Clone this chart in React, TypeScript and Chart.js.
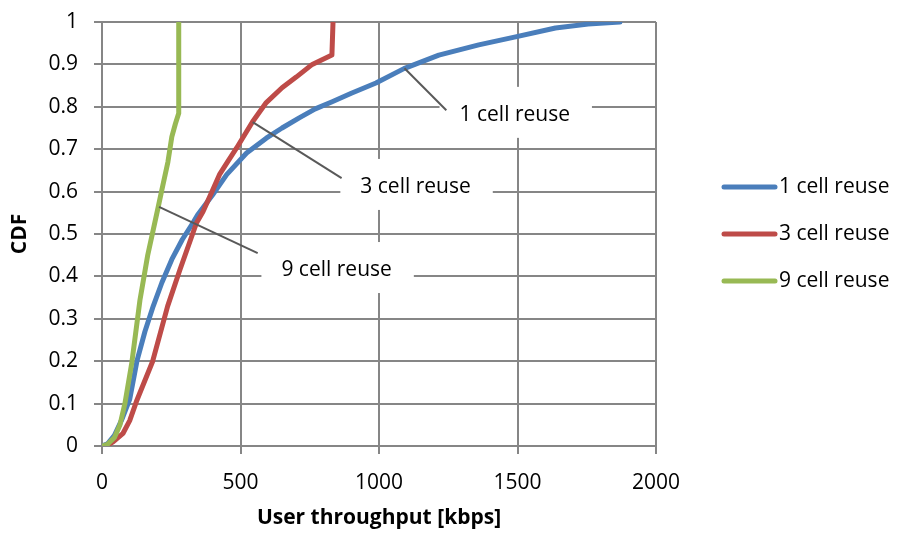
import React, { useEffect, useRef } from "react";
import { Chart, registerables } from "chart.js";

Chart.register(...registerables);

const FONT = "'Open Sans', 'Noto Sans', sans-serif";

const seriesNames = ["1 cell reuse", "3 cell reuse", "9 cell reuse"];
const seriesColors = ["#4A7EBB", "#BE4B48", "#98B954"];

// User throughput [kbps] and matching CDF values, per reuse scheme
const reuse1Kbps = [0, 20, 45, 70, 100, 126, 155, 185, 216, 252, 290, 328, 345, 399, 450, 522, 593, 650, 712, 770, 831, 900, 989, 1090, 1216, 1360, 1493, 1637, 1755, 1870];
const reuse1Cdf = [0, 0.005, 0.025, 0.06, 0.11, 0.2, 0.27, 0.33, 0.385, 0.44, 0.487, 0.526, 0.545, 0.592, 0.64, 0.691, 0.726, 0.75, 0.774, 0.795, 0.812, 0.832, 0.856, 0.89, 0.922, 0.946, 0.965, 0.986, 0.995, 1.0];

const reuse3Kbps = [15, 40, 76, 100, 126, 183, 237, 281, 341, 364, 400, 424, 455, 486, 543, 593, 650, 701, 759, 830, 834];
const reuse3Cdf = [0, 0.01, 0.03, 0.06, 0.108, 0.2, 0.33, 0.415, 0.526, 0.552, 0.604, 0.64, 0.672, 0.703, 0.764, 0.81, 0.845, 0.87, 0.9, 0.922, 1.0];

const reuse9Kbps = [0, 20, 45, 65, 83, 108, 137, 165, 203, 216, 238, 252, 265, 277, 277];
const reuse9Cdf = [0, 0.004, 0.02, 0.05, 0.101, 0.198, 0.344, 0.45, 0.564, 0.604, 0.67, 0.729, 0.76, 0.785, 1.0];

const xTickValues = [0, 500, 1000, 1500, 2000];
const yTickValues = [0, 0.1, 0.2, 0.3, 0.4, 0.5, 0.6, 0.7, 0.8, 0.9, 1];

const xTitle = "User throughput [kbps]";
const yTitle = "CDF";

// Callout labels: curve anchor, leader-line end and text centre, in axis units
const callouts = [
  { text: "1 cell reuse", ax: 1092, ay: 0.891, ex: 1243, ey: 0.792, lx: 1490, ly: 0.781 },
  { text: "3 cell reuse", ax: 544, ay: 0.764, ex: 865, ey: 0.632, lx: 1132, ly: 0.611 },
  { text: "9 cell reuse", ax: 206, ay: 0.564, ex: 562, ey: 0.455, lx: 847, ly: 0.415 },
];

const toPoints = (xs: number[], ys: number[]) => xs.map((x, i) => ({ x, y: ys[i] }));

const calloutPlugin = {
  id: "callouts",
  afterDatasetsDraw(chart: any) {
    const { ctx, scales } = chart;
    const xs = scales.x;
    const ys = scales.y;
    ctx.save();
    ctx.font = `21px ${FONT}`;
    for (const c of callouts) {
      const tx = xs.getPixelForValue(c.lx);
      const ty = ys.getPixelForValue(c.ly);
      const w = ctx.measureText(c.text).width;
      ctx.fillStyle = "#ffffff";
      ctx.fillRect(tx - w / 2 - 20, ty - 28, w + 42, 51);
      ctx.strokeStyle = "#595959";
      ctx.lineWidth = 2;
      ctx.beginPath();
      ctx.moveTo(xs.getPixelForValue(c.ax), ys.getPixelForValue(c.ay));
      ctx.lineTo(xs.getPixelForValue(c.ex), ys.getPixelForValue(c.ey));
      ctx.stroke();
      ctx.fillStyle = "#000000";
      ctx.textAlign = "center";
      ctx.textBaseline = "middle";
      ctx.fillText(c.text, tx, ty);
    }
    ctx.restore();
  },
};

const legendPlugin = {
  id: "sideLegend",
  afterDraw(chart: any) {
    const { ctx, chartArea } = chart;
    const midY = (chartArea.top + chartArea.bottom) / 2;
    const x0 = chartArea.right + 68;
    ctx.save();
    ctx.font = `21px ${FONT}`;
    ctx.textAlign = "left";
    ctx.textBaseline = "middle";
    chart.data.datasets.forEach((ds: any, i: number) => {
      const y = midY + (i - 1) * 47;
      ctx.strokeStyle = ds.borderColor;
      ctx.lineWidth = 5;
      ctx.lineCap = "round";
      ctx.beginPath();
      ctx.moveTo(x0, y);
      ctx.lineTo(x0 + 51, y);
      ctx.stroke();
      ctx.fillStyle = "#000000";
      ctx.fillText(ds.label, x0 + 55, y);
    });
    ctx.restore();
  },
};

export default function App() {
  const canvasRef = useRef<HTMLCanvasElement | null>(null);

  useEffect(() => {
    document.body.style.margin = "0";
    const canvas = canvasRef.current;
    if (!canvas) return;

    const seriesPoints = [
      toPoints(reuse1Kbps, reuse1Cdf),
      toPoints(reuse3Kbps, reuse3Cdf),
      toPoints(reuse9Kbps, reuse9Cdf),
    ];

    const grid = {
      color: "#868686",
      lineWidth: 2,
      tickLength: 8,
      drawTicks: true,
    };

    const chart = new Chart(canvas, {
      type: "line",
      data: {
        datasets: seriesNames.map((name, i) => ({
          label: name,
          data: seriesPoints[i],
          borderColor: seriesColors[i],
          backgroundColor: seriesColors[i],
          borderWidth: 5,
          pointRadius: 0,
          tension: 0,
          fill: false,
          borderJoinStyle: "round" as const,
          borderCapStyle: "round" as const,
          order: seriesNames.length - i,
        })),
      },
      options: {
        responsive: false,
        animation: false,
        layout: { padding: { top: 22, right: 250, bottom: 0, left: 0 } },
        plugins: {
          legend: { display: false },
          tooltip: { enabled: false },
        },
        scales: {
          x: {
            type: "linear",
            min: 0,
            max: 2000,
            afterFit: (s: any) => {
              s.height = 87;
            },
            afterBuildTicks: (s: any) => {
              s.ticks = xTickValues.map((v) => ({ value: v }));
            },
            ticks: {
              color: "#000000",
              font: { family: FONT, size: 21 },
              padding: 16,
              maxRotation: 0,
              callback: (v: any) => String(v),
            },
            grid,
            border: { color: "#868686", width: 2 },
            title: {
              display: true,
              text: xTitle,
              color: "#000000",
              font: { family: FONT, size: 21, weight: "bold" },
              padding: { top: 0, bottom: 2 },
            },
          },
          y: {
            type: "linear",
            min: 0,
            max: 1,
            afterFit: (s: any) => {
              s.width = 102;
              s.paddingTop = 0;
              s.paddingBottom = 0;
            },
            afterBuildTicks: (s: any) => {
              s.ticks = yTickValues.map((v) => ({ value: v }));
            },
            ticks: {
              color: "#000000",
              font: { family: FONT, size: 21 },
              padding: 16,
              callback: (v: any) => String(Math.round(v * 10) / 10),
            },
            grid,
            border: { color: "#868686", width: 2 },
            title: {
              display: true,
              text: yTitle,
              color: "#000000",
              font: { family: FONT, size: 21, weight: "bold" },
              padding: { top: 7, bottom: 0 },
            },
          },
        },
      },
      plugins: [calloutPlugin, legendPlugin],
    });

    return () => chart.destroy();
  }, []);

  return (
    <div style={{ width: 906, height: 533, background: "#ffffff" }}>
      <canvas ref={canvasRef} width={906} height={533} />
    </div>
  );
}
